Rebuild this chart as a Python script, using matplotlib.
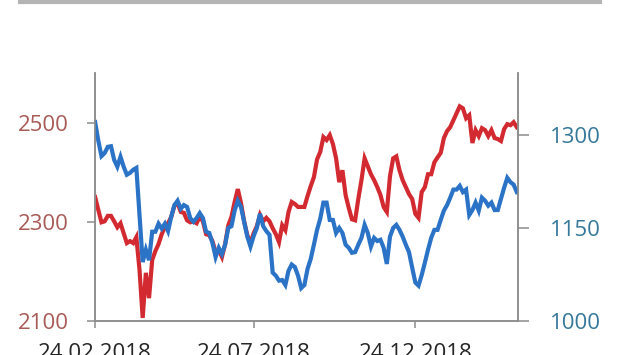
import pandas as pd
import matplotlib
matplotlib.use("Agg")
import matplotlib.pyplot as plt
import matplotlib.dates as mdates
from matplotlib.lines import Line2D

plt.rcParams['font.family'] = ['Open Sans', 'DejaVu Sans']

# values, one point every 3 days from 24.02.2018
start = '2018-02-24'
red_vals = [2350, 2324, 2299, 2301, 2312, 2312, 2301, 2289, 2297, 2277,
            2257, 2261, 2257, 2269, 2203, 2106, 2197, 2146, 2223, 2241,
            2255, 2275, 2289, 2297, 2310, 2332, 2338, 2320, 2318, 2303,
            2299, 2301, 2297, 2310, 2301, 2275, 2273, 2261, 2239, 2243,
            2229, 2255, 2293, 2310, 2340, 2366, 2338, 2301, 2273, 2257,
            2277, 2291, 2314, 2301, 2308, 2301, 2287, 2275, 2259, 2293,
            2283, 2320, 2340, 2336, 2330, 2330, 2330, 2352, 2372, 2390,
            2426, 2441, 2471, 2465, 2475, 2457, 2428, 2380, 2404, 2354,
            2328, 2305, 2303, 2346, 2384, 2428, 2412, 2396, 2384, 2370,
            2354, 2330, 2320, 2392, 2428, 2432, 2404, 2384, 2370, 2356,
            2346, 2316, 2308, 2360, 2370, 2396, 2396, 2420, 2430, 2439,
            2469, 2483, 2491, 2505, 2519, 2533, 2529, 2509, 2515, 2459,
            2485, 2473, 2489, 2485, 2473, 2485, 2469, 2467, 2463, 2487,
            2497, 2495, 2501, 2491]
blue_vals = [1321, 1291, 1266, 1271, 1281, 1282, 1260, 1249, 1265, 1249,
             1236, 1239, 1244, 1247, 1171, 1095, 1115, 1098, 1144, 1144,
             1157, 1149, 1157, 1145, 1168, 1187, 1194, 1181, 1187, 1184,
             1166, 1160, 1166, 1174, 1166, 1144, 1142, 1126, 1103, 1118,
             1108, 1123, 1150, 1153, 1178, 1194, 1184, 1160, 1136, 1120,
             1137, 1150, 1173, 1153, 1145, 1139, 1078, 1073, 1065, 1066,
             1058, 1081, 1091, 1087, 1073, 1053, 1058, 1084, 1100, 1123,
             1147, 1165, 1191, 1191, 1163, 1163, 1142, 1150, 1142, 1123,
             1118, 1110, 1111, 1123, 1134, 1155, 1142, 1120, 1134, 1129,
             1131, 1118, 1092, 1136, 1150, 1155, 1147, 1136, 1123, 1111,
             1086, 1062, 1057, 1074, 1094, 1115, 1134, 1147, 1147, 1163,
             1178, 1187, 1199, 1212, 1212, 1218, 1208, 1212, 1171, 1179,
             1191, 1178, 1199, 1194, 1186, 1191, 1179, 1179, 1197, 1215,
             1231, 1224, 1220, 1208]
date_ticks = ['2018-02-24', '2018-07-24', '2018-12-24']
left_ticks = [2100, 2300, 2500]
right_ticks = [1000, 1150, 1300]

dates = pd.date_range(start, periods=len(red_vals), freq='3D')

red = '#d22a30'
blue = '#2b73c6'
grey = '#8c8c8c'

fig = plt.figure(figsize=(6.3, 3.55), dpi=100)
ax = fig.add_axes([0.151, 0.096, 0.671, 0.698])
ax2 = ax.twinx()

ax.plot(dates, red_vals, color=red, lw=3, solid_joinstyle='miter')
ax2.plot(dates, blue_vals, color=blue, lw=3, solid_joinstyle='miter')

ax.set_ylim(2100, 2600)
ax2.set_ylim(1000, 1400)
ax.set_xlim(pd.Timestamp('2018-02-24'), pd.Timestamp('2019-03-31'))

ax.set_yticks(left_ticks)
ax2.set_yticks(right_ticks)
ax.set_xticks(pd.to_datetime(date_ticks))
ax.xaxis.set_major_formatter(mdates.DateFormatter('%d.%m.%Y'))

for a in (ax, ax2):
    a.spines['top'].set_visible(False)
    for s in ('left', 'right', 'bottom'):
        a.spines[s].set_color(grey)
        a.spines[s].set_linewidth(1.1)
    a.set_facecolor('none')

ax.tick_params(axis='y', length=6, width=1.1, color=grey, pad=13,
               labelsize=16, labelcolor='#a85a56')
ax2.tick_params(axis='y', length=8, width=1.1, color=grey, pad=15,
                labelsize=16, labelcolor='#35789a')
ax.tick_params(axis='x', length=5, width=1.1, color=grey, pad=11,
               labelsize=16, labelcolor='#262626')

# grey rule across the top
fig.add_artist(Line2D([0.032, 0.952], [0.994, 0.994], color='#b4b4b4', lw=3,
                      transform=fig.transFigure))

fig.savefig('out.png', dpi=100, facecolor='white')
